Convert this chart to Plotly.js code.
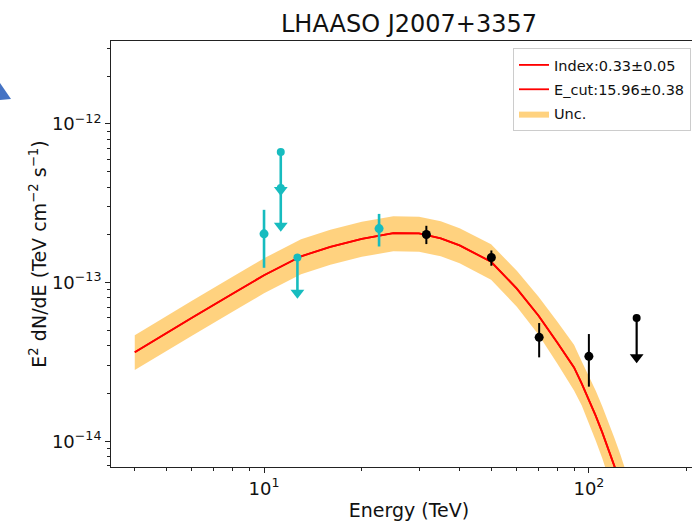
<!DOCTYPE html>
<html>
<head>
<meta charset="utf-8">
<script src="https://cdn.plot.ly/plotly-3.0.1.min.js"></script>
<style>
html,body{margin:0;padding:0;overflow:hidden;background:#fff;width:692px;height:523px;}
#chart{width:720px;height:523px;}
</style>
</head>
<body>
<div id="chart"></div>
<script>
// ---- data ----
const modelE = [4,5,6,8,10,13,16,20,25,30,35,40,50,60,70,80,90,95,100,105,110,115,120,125,130];
const modelFlux = [3.64e-14,4.83e-14,6.01e-14,8.51e-14,1.112e-13,1.465e-13,1.681e-13,1.888e-13,2.05e-13,2.04e-13,1.902e-13,1.716e-13,1.353e-13,9.17e-14,6.18e-14,4.18e-14,2.92e-14,2.32e-14,1.83e-14,1.447e-14,1.135e-14,8.94e-15,6.93e-15,5.42e-15,4.17e-15];
const bandUpper = [4.66e-14,6.18e-14,7.69e-14,1.088e-13,1.423e-13,1.875e-13,2.152e-13,2.416e-13,2.617e-13,2.598e-13,2.433e-13,2.198e-13,1.743e-13,1.187e-13,8.14e-14,5.67e-14,4.06e-14,3.19e-14,2.57e-14,2.08e-14,1.654e-14,1.322e-14,1.04e-14,8.25e-15,6.45e-15];
const bandLower = [2.81e-14,3.72e-14,4.63e-14,6.55e-14,8.57e-14,1.129e-13,1.295e-13,1.454e-13,1.575e-13,1.563e-13,1.465e-13,1.323e-13,1.042e-13,7.05e-14,4.69e-14,3.08e-14,2.09e-14,1.688e-14,1.302e-14,1.007e-14,7.78e-15,6.05e-15,4.62e-15,3.56e-15,2.70e-15];

const cyanE = [10.0, 22.6];
const cyanFlux = [2.03e-13, 2.19e-13];
const cyanHi = [2.875e-13, 2.71e-13];
const cyanLo = [1.24e-13, 1.689e-13];

const cyanUlE = [11.26, 11.26, 12.67];
const cyanUlFlux = [6.66e-13, 3.95e-13, 1.44e-13];
const cyanUlEnd = [3.84e-13, 2.28e-13, 8.63e-14];

const blackE = [31.6, 50.1, 70.3, 100];
const blackFlux = [2.01e-13, 1.44e-13, 4.52e-14, 3.43e-14];
const blackHi = [2.28e-13, 1.594e-13, 5.56e-14, 4.74e-14];
const blackLo = [1.749e-13, 1.277e-13, 3.38e-14, 2.21e-14];

const blackUlE = [140.3];
const blackUlFlux = [5.98e-14];
const blackUlEnd = [3.39e-14];

const xMajor = [10, 100];
const xMajorText = ['10<sup>1</sup>', '10<sup>2</sup>'];
const yMajor = [1e-14, 1e-13, 1e-12];
const yMajorText = ['10<sup>−14</sup>', '10<sup>−13</sup>', '10<sup>−12</sup>'];
const legendIndex = 'Index:0.33±0.05';
const legendEcut = 'E_cut:15.96±0.38';
const legendUnc = 'Unc.';
const titleText = 'LHAASO J2007+3357';
const xTitle = 'Energy (TeV)';
const yTitle = 'E<sup>2</sup> dN/dE (TeV cm<sup>−2</sup> s<sup>−1</sup>)';

// ---- helpers ----
function minorTicks(lo, hi){
  const out=[];
  for(let d=lo; d<=hi; d++){ for(let m=2;m<=9;m++){ out.push(m*Math.pow(10,d)); } }
  return out;
}
const diff = (a,b)=>a.map((v,i)=>v-b[i]);
const zeros = a=>a.map(()=>0);

const CYAN = '#17bcbf';
const RED = '#ff0000';
const BAND = 'rgba(255,165,0,0.5)';
const FONT = 'DejaVu Sans, Liberation Sans, sans-serif';

const traces = [
  {x: modelE, y: bandLower, type:'scatter', mode:'lines', line:{width:0, color:BAND}, showlegend:false, hoverinfo:'skip', legendgroup:'u'},
  {x: modelE, y: bandUpper, type:'scatter', mode:'lines', fill:'tonexty', fillcolor:BAND, line:{width:0, color:BAND}, name:legendUnc, legendrank:3, legendgroup:'u'},
  {x: modelE, y: modelFlux, type:'scatter', mode:'lines', line:{color:RED, width:1.8}, name:legendIndex, legendrank:1, legendgroup:'a'},
  {x: modelE, y: modelFlux, type:'scatter', mode:'lines', line:{color:RED, width:1.8}, name:legendEcut, legendrank:2, legendgroup:'b'},
  // cyan points
  {x: cyanE, y: cyanFlux, type:'scatter', mode:'markers', marker:{color:CYAN, size:9}, showlegend:false,
   error_y:{type:'data', symmetric:false, array:diff(cyanHi,cyanFlux), arrayminus:diff(cyanFlux,cyanLo), color:CYAN, thickness:2.6, width:0}},
  // cyan upper limits
  {x: cyanUlE, y: cyanUlFlux, type:'scatter', mode:'markers', marker:{color:CYAN, size:8}, showlegend:false,
   error_y:{type:'data', symmetric:false, array:zeros(cyanUlFlux), arrayminus:diff(cyanUlFlux,cyanUlEnd), color:CYAN, thickness:2.6, width:0}},
  {x: cyanUlE, y: cyanUlEnd, type:'scatter', mode:'markers', marker:{color:CYAN, size:12, symbol:'triangle-down'}, showlegend:false},
  // black points
  {x: blackE, y: blackFlux, type:'scatter', mode:'markers', marker:{color:'#000', size:9}, showlegend:false,
   error_y:{type:'data', symmetric:false, array:diff(blackHi,blackFlux), arrayminus:diff(blackFlux,blackLo), color:'#000', thickness:2, width:0}},
  {x: blackUlE, y: blackUlFlux, type:'scatter', mode:'markers', marker:{color:'#000', size:8}, showlegend:false,
   error_y:{type:'data', symmetric:false, array:zeros(blackUlFlux), arrayminus:diff(blackUlFlux,blackUlEnd), color:'#000', thickness:2.2, width:0}},
  {x: blackUlE, y: blackUlEnd, type:'scatter', mode:'markers', marker:{color:'#000', size:12, symbol:'triangle-down'}, showlegend:false}
];

const W = 720, H = 523;
const M = {l:111, r:13, t:41, b:56};
const pw = W - M.l - M.r, ph = H - M.t - M.b;
const px = v => (v - M.l)/pw;
const py = v => (H - M.b - v)/ph;
const triPath = 'M ' + px(0) + ' ' + py(83) + ' L ' + px(11) + ' ' + py(99) + ' L ' + px(0) + ' ' + py(100) + ' Z';

const axisCommon = {
  type:'log', showgrid:false, zeroline:false, showline:true, mirror:true,
  linecolor:'#222', linewidth:1, ticks:'outside', ticklen:5, tickwidth:1, tickcolor:'#222',
  tickfont:{family:FONT, size:18, color:'#111'}, tickmode:'array'
};

const layout = {
  width: W, height: H,
  margin: M,
  paper_bgcolor:'#fff', plot_bgcolor:'#fff',
  font:{family:FONT, color:'#111'},
  title:{text:titleText, x:0.5, xref:'paper', xanchor:'center', y:1-24/H, yanchor:'middle', font:{family:FONT, size:24, color:'#111'}},
  xaxis: Object.assign({}, axisCommon, {
    range:[Math.log10(3.38), Math.log10(231)],
    tickvals:xMajor, ticktext:xMajorText,
    minor:{tickmode:'array', tickvals:minorTicks(0,2), ticks:'outside', ticklen:3, tickwidth:1, tickcolor:'#222', showgrid:false},
    title:{text:xTitle, font:{family:FONT, size:19, color:'#111'}, standoff:6}
  }),
  yaxis: Object.assign({}, axisCommon, {
    range:[-14.162, -11.4775],
    tickvals:yMajor, ticktext:yMajorText,
    minor:{tickmode:'array', tickvals:minorTicks(-15,-12), ticks:'outside', ticklen:3, tickwidth:1, tickcolor:'#222', showgrid:false},
    title:{text:yTitle, font:{family:FONT, size:19, color:'#111'}, standoff:0}
  }),
  legend:{x:px(513), y:py(48), xanchor:'left', yanchor:'top', bgcolor:'rgba(255,255,255,0.9)', bordercolor:'#cccccc', borderwidth:1,
          font:{family:FONT, size:14.5, color:'#111'}, traceorder:'grouped', tracegroupgap:2.5, itemwidth:30},
  shapes:[{type:'path', xref:'paper', yref:'paper', path:triPath, fillcolor:'#4472c4', line:{width:0}, layer:'above'}],
  showlegend:true
};

Plotly.newPlot('chart', traces, layout, {displayModeBar:false, staticPlot:true});
</script>
</body>
</html>
